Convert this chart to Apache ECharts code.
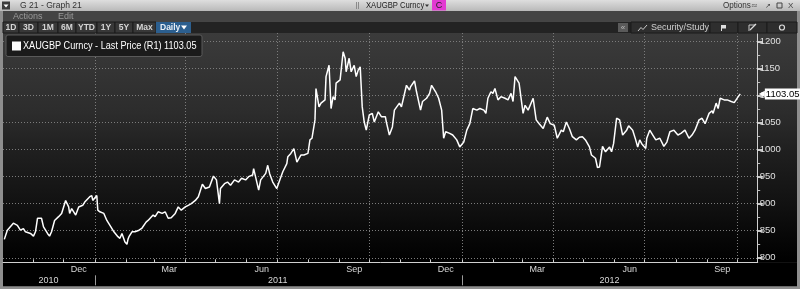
<!DOCTYPE html>
<html><head><meta charset="utf-8">
<script src="https://cdn.jsdelivr.net/npm/echarts@6/dist/echarts.min.js"></script>
<style>html,body{margin:0;padding:0;background:#8c8c8c;}#c{width:800px;height:289px;}</style>
</head><body><div id="c"></div>
<script>
// ---- data ----
const dates = ['2010-10-03','2010-10-06','2010-10-12','2010-10-16','2010-10-19','2010-10-22','2010-10-24','2010-10-29','2010-11-01','2010-11-03','2010-11-05','2010-11-09','2010-11-11','2010-11-15','2010-11-17','2010-11-19','2010-11-22','2010-11-26','2010-11-29','2010-12-01','2010-12-03','2010-12-06','2010-12-07','2010-12-09','2010-12-13','2010-12-16','2010-12-20','2010-12-22','2010-12-27','2010-12-29','2010-12-30','2011-01-03','2011-01-04','2011-01-06','2011-01-10','2011-01-13','2011-01-17','2011-01-20','2011-01-24','2011-01-26','2011-01-28','2011-01-31','2011-02-02','2011-02-03','2011-02-04','2011-02-07','2011-02-10','2011-02-14','2011-02-17','2011-02-21','2011-02-23','2011-02-28','2011-03-02','2011-03-05','2011-03-09','2011-03-12','2011-03-15','2011-03-18','2011-03-22','2011-03-25','2011-03-28','2011-04-01','2011-04-04','2011-04-07','2011-04-11','2011-04-14','2011-04-18','2011-04-21','2011-04-25','2011-04-29','2011-05-02','2011-05-05','2011-05-06','2011-05-10','2011-05-13','2011-05-16','2011-05-20','2011-05-24','2011-05-27','2011-05-31','2011-06-03','2011-06-07','2011-06-08','2011-06-13','2011-06-15','2011-06-20','2011-06-22','2011-06-24','2011-06-27','2011-07-01','2011-07-04','2011-07-07','2011-07-11','2011-07-12','2011-07-15','2011-07-18','2011-07-21','2011-07-25','2011-07-28','2011-08-01','2011-08-03','2011-08-05','2011-08-08','2011-08-09','2011-08-12','2011-08-14','2011-08-18','2011-08-19','2011-08-22','2011-08-24','2011-08-26','2011-08-28','2011-08-29','2011-09-02','2011-09-05','2011-09-07','2011-09-08','2011-09-11','2011-09-13','2011-09-16','2011-09-18','2011-09-20','2011-09-22','2011-09-24','2011-09-26','2011-09-28','2011-10-01','2011-10-04','2011-10-06','2011-10-10','2011-10-13','2011-10-17','2011-10-18','2011-10-21','2011-10-24','2011-10-26','2011-10-31','2011-11-02','2011-11-04','2011-11-07','2011-11-10','2011-11-11','2011-11-15','2011-11-17','2011-11-18','2011-11-21','2011-11-23','2011-11-27','2011-11-30','2011-12-02','2011-12-06','2011-12-09','2011-12-12','2011-12-14','2011-12-16','2011-12-20','2011-12-23','2011-12-27','2011-12-30','2012-01-03','2012-01-06','2012-01-09','2012-01-12','2012-01-16','2012-01-19','2012-01-23','2012-01-25','2012-01-27','2012-01-30','2012-02-01','2012-02-03','2012-02-06','2012-02-09','2012-02-13','2012-02-16','2012-02-19','2012-02-21','2012-02-23','2012-02-27','2012-02-28','2012-03-02','2012-03-04','2012-03-07','2012-03-12','2012-03-15','2012-03-18','2012-03-22','2012-03-26','2012-03-29','2012-04-02','2012-04-05','2012-04-09','2012-04-11','2012-04-14','2012-04-17','2012-04-20','2012-04-24','2012-04-27','2012-04-30','2012-05-03','2012-05-07','2012-05-09','2012-05-13','2012-05-15','2012-05-17','2012-05-20','2012-05-23','2012-05-27','2012-05-29','2012-05-31','2012-06-03','2012-06-06','2012-06-09','2012-06-13','2012-06-15','2012-06-19','2012-06-22','2012-06-24','2012-06-26','2012-06-28','2012-07-02','2012-07-03','2012-07-06','2012-07-09','2012-07-12','2012-07-16','2012-07-20','2012-07-23','2012-07-26','2012-07-30','2012-08-03','2012-08-06','2012-08-10','2012-08-14','2012-08-17','2012-08-20','2012-08-24','2012-08-27','2012-08-30','2012-09-03','2012-09-06','2012-09-07','2012-09-10','2012-09-12','2012-09-14','2012-09-18','2012-09-21','2012-09-25','2012-09-28','2012-10-02','2012-10-04'];
const prices = [834,851,864,860,851,854,848,845,840,848,873,873,857,845,840,848,869,876,882,894,906,894,882,891,879,894,897,903,913,915,906,915,888,885,882,869,857,848,839,836,845,829,825,834,839,848,848,851,855,866,869,879,876,885,882,885,873,874,882,894,888,894,897,900,906,913,936,928,931,951,944,900,928,937,940,934,944,940,947,944,950,953,965,925,944,956,971,955,940,928,944,959,974,987,993,1002,977,990,990,993,1018,1021,1055,1113,1079,1086,1092,1135,1156,1076,1098,1092,1123,1129,1181,1169,1144,1169,1144,1156,1135,1147,1153,1079,1051,1036,1064,1067,1051,1070,1061,1061,1051,1027,1042,1073,1086,1079,1095,1119,1110,1116,1127,1107,1104,1073,1089,1095,1104,1119,1107,1095,1073,1021,1033,1030,1027,1018,1005,1014,1036,1048,1076,1073,1076,1073,1067,1095,1107,1104,1113,1092,1098,1095,1092,1104,1089,1135,1123,1126,1067,1082,1073,1095,1055,1048,1039,1060,1048,1045,1021,1036,1033,1051,1039,1024,1018,1023,1024,1018,1005,990,984,967,968,1006,996,1005,996,1011,1058,1055,1027,1036,1044,1036,1018,1005,1018,1011,1002,1021,1036,1027,1018,1021,1006,1014,1033,1036,1027,1030,1036,1021,1027,1036,1055,1058,1048,1067,1072,1067,1086,1076,1095,1092,1092,1089,1087,1098,1103.05];
const lastPrice = 1103.05;
const seriesName = 'XAUGBP Curncy - Last Price (R1)';
const yTicks = [800,850,900,950,1000,1050,1100,1150,1200];
const yMinorTicks = [825,875,925,975,1025,1075,1125,1175];
const monthStarts = ['2010-11-01','2010-12-01','2011-01-01','2011-02-01','2011-03-01','2011-04-01','2011-05-01','2011-06-01','2011-07-01','2011-08-01','2011-09-01','2011-10-01','2011-11-01','2011-12-01','2012-01-01','2012-02-01','2012-03-01','2012-04-01','2012-05-01','2012-06-01','2012-07-01','2012-08-01','2012-09-01','2012-10-01'];
const quarterStarts = ['2011-01-01','2011-04-01','2011-07-01','2011-10-01','2012-01-01','2012-04-01','2012-07-01','2012-10-01'];
const monthLabelDates = ['2010-12-16','2011-03-16','2011-06-16','2011-09-16','2011-12-16','2012-03-16','2012-06-16','2012-09-16'];
const monthLabelNames = ['Dec','Mar','Jun','Sep','Dec','Mar','Jun','Sep'];
const yearLabelDates = ['2010-11-16','2011-07-02','2012-05-27'];
const yearLabelNames = ['2010','2011','2012'];
const yearBreaks = ['2011-01-01','2012-01-01'];
const xStart = '2010-10-02';   // left edge of plot
const xEnd = '2012-10-21';     // right edge of plot
const yMin = 791.6, yMax = 1215.7;

// ---- chart ----
const t = s => +new Date(s + 'T00:00:00');
const seriesData = dates.map((d, i) => [t(d), prices[i]]);
const xMin = t(xStart) - 0.3 * 864e5, xMax = t(xEnd) + 0.35 * 864e5;
const F = 'Liberation Sans';
const axisGrey = '#d0d0d0';
const gridGrey = '#7c7c7c';

const chart = echarts.init(document.getElementById('c'), null, {renderer: 'canvas'});

function baseX(extra) {
  return Object.assign({type: 'value', min: xMin, max: xMax, gridIndex: 0,
    axisLine: {show: false}, axisTick: {show: false}, axisLabel: {show: false},
    splitLine: {show: false}, axisPointer: {show: false}}, extra);
}

const btn = (x, w, label, fill) => ([
  {type: 'rect', shape: {x: x, y: 22, width: w, height: 11}, style: {fill: fill || '#383838', stroke: '#1a1a1a', lineWidth: 1}, z: 50},
  {type: 'text', x: x + w / 2, y: 27.8, style: {text: label, fill: '#d4d4d4', font: 'bold 8.5px ' + F, align: 'center', verticalAlign: 'middle'}, z: 51}
]);

const graphics = [
  {type: 'rect', shape: {x: 0, y: 0, width: 800, height: 289}, style: {fill: '#8e8e8e'}, z: -20},
  {type: 'rect', shape: {x: 0, y: 0, width: 800, height: 11}, style: {fill: new echarts.graphic.LinearGradient(0, 0, 0, 1, [{offset: 0, color: '#dedede'}, {offset: 1, color: '#b9b9b9'}])}, z: -19},
  {type: 'rect', shape: {x: 2, y: 1.5, width: 8, height: 8}, style: {fill: '#3a3a3a'}, z: 50},
  {type: 'polygon', shape: {points: [[3.5, 4.5], [8.5, 4.5], [6, 7.5]]}, style: {fill: '#fff'}, z: 51},
  {type: 'text', x: 20, y: 5.8, scaleX: 0.95, style: {text: 'G 21 - Graph 21', fill: '#333', font: '9px ' + F, verticalAlign: 'middle'}, z: 50},
  {type: 'rect', shape: {x: 356, y: 2, width: 1, height: 7}, style: {fill: '#8a8a8a'}, z: 50},
  {type: 'rect', shape: {x: 358, y: 2, width: 1, height: 7}, style: {fill: '#8a8a8a'}, z: 50},
  {type: 'text', x: 366, y: 5.8, scaleX: 0.85, style: {text: 'XAUGBP Curncy', fill: '#222', font: '9px ' + F, verticalAlign: 'middle'}, z: 50},
  {type: 'polygon', shape: {points: [[425, 4.5], [429, 4.5], [427, 7]]}, style: {fill: '#333'}, z: 51},
  {type: 'rect', shape: {x: 432, y: 0, width: 14, height: 10.5}, style: {fill: '#e23ad2'}, z: 50},
  {type: 'text', x: 439, y: 5.8, style: {text: 'C', fill: '#222', font: '9px ' + F, align: 'center', verticalAlign: 'middle'}, z: 51},
  {type: 'text', x: 723, y: 5.8, scaleX: 0.9, style: {text: 'Options', fill: '#333', font: '9px ' + F, verticalAlign: 'middle'}, z: 50},
  {type: 'text', x: 751, y: 5.8, style: {text: '≈', fill: '#555', font: '8px DejaVu Sans', verticalAlign: 'middle'}, z: 50},
  {type: 'text', x: 765, y: 5.8, style: {text: '↗', fill: '#444', font: '7px DejaVu Sans', verticalAlign: 'middle'}, z: 50},
  {type: 'rect', shape: {x: 777, y: 3, width: 5, height: 5}, style: {fill: 'none', stroke: '#444', lineWidth: 1}, z: 50},
  {type: 'text', x: 788, y: 5.8, style: {text: 'X', fill: '#444', font: '8px ' + F, verticalAlign: 'middle'}, z: 50},
  {type: 'rect', shape: {x: 3, y: 11, width: 794, height: 10.5}, style: {fill: '#444444'}, z: -19},
  {type: 'text', x: 13, y: 16.3, style: {text: 'Actions', fill: '#9a9a9a', font: '9px ' + F, verticalAlign: 'middle'}, z: 50},
  {type: 'text', x: 58, y: 16.3, style: {text: 'Edit', fill: '#9a9a9a', font: '9px ' + F, verticalAlign: 'middle'}, z: 50},
  {type: 'rect', shape: {x: 3, y: 21.5, width: 794, height: 11.5}, style: {fill: '#232323'}, z: -19},
  ...btn(3, 16, '1D'), ...btn(19, 19, '3D'), ...btn(38, 20, '1M'), ...btn(58, 18, '6M'),
  ...btn(76, 21, 'YTD'), ...btn(97, 18, '1Y'), ...btn(115, 18, '5Y'), ...btn(133, 23, 'Max'),
  {type: 'rect', shape: {x: 156, y: 22, width: 35, height: 11}, style: {fill: '#2c5f8f'}, z: 50},
  {type: 'text', x: 160, y: 27.8, style: {text: 'Daily', fill: '#e8eef5', font: 'bold 8.5px ' + F, verticalAlign: 'middle'}, z: 51},
  {type: 'polygon', shape: {points: [[181, 25.5], [187, 25.5], [184, 29.5]]}, style: {fill: '#fff'}, z: 51},
  {type: 'rect', shape: {x: 618, y: 23, width: 10, height: 9}, style: {fill: '#5a5a5a'}, z: 50},
  {type: 'text', x: 623, y: 27.6, style: {text: '«', fill: '#bbb', font: '8px ' + F, align: 'center', verticalAlign: 'middle'}, z: 51},
  {type: 'rect', shape: {x: 631, y: 22, width: 79, height: 11}, style: {fill: '#2e2e2e', stroke: '#1a1a1a'}, z: 50},
  {type: 'polyline', shape: {points: [[638, 31], [641, 27.5], [643, 29.5], [647, 25]]}, style: {stroke: '#ccc', lineWidth: 1, fill: 'none'}, z: 51},
  {type: 'text', x: 651, y: 27.8, style: {text: 'Security/Study', fill: '#cfcfcf', font: '9px ' + F, verticalAlign: 'middle'}, z: 51},
  {type: 'rect', shape: {x: 710, y: 22, width: 28, height: 11}, style: {fill: '#2e2e2e', stroke: '#1a1a1a'}, z: 50},
  {type: 'rect', shape: {x: 721, y: 25, width: 5, height: 3.5}, style: {fill: '#ddd'}, z: 51},
  {type: 'rect', shape: {x: 721, y: 25, width: 1, height: 6}, style: {fill: '#ddd'}, z: 51},
  {type: 'rect', shape: {x: 738, y: 22, width: 29, height: 11}, style: {fill: '#2e2e2e', stroke: '#1a1a1a'}, z: 50},
  {type: 'polyline', shape: {points: [[749, 31], [749, 25], [755, 25]]}, style: {stroke: '#ccc', lineWidth: 1, fill: 'none'}, z: 51},
  {type: 'line', shape: {x1: 750, y1: 30, x2: 756, y2: 24}, style: {stroke: '#ddd', lineWidth: 1.2}, z: 51},
  {type: 'rect', shape: {x: 767, y: 22, width: 30, height: 11}, style: {fill: '#2e2e2e', stroke: '#1a1a1a'}, z: 50},
  {type: 'circle', shape: {cx: 782, cy: 27.5, r: 2.5}, style: {fill: 'none', stroke: '#ddd', lineWidth: 1.2}, z: 51},
  {type: 'rect', shape: {x: 3, y: 33, width: 794, height: 229.5}, style: {fill: new echarts.graphic.LinearGradient(0, 0, 0, 1, [
    {offset: 0, color: '#3b3b3b'}, {offset: 0.35, color: '#2c2c2c'}, {offset: 0.52, color: '#1f1f1f'},
    {offset: 0.75, color: '#111111'}, {offset: 0.92, color: '#050505'}, {offset: 1, color: '#000000'}])}, z: -19},
  {type: 'rect', shape: {x: 3, y: 262.3, width: 794, height: 24}, style: {fill: '#000'}, z: -19},
  {type: 'rect', shape: {x: 6, y: 35, width: 196, height: 21.5, r: 2}, style: {fill: '#1b1b1b', stroke: '#5a5a5a', lineWidth: 1}, z: 60},
  {type: 'rect', shape: {x: 12, y: 41.5, width: 9, height: 9}, style: {fill: '#ffffff'}, z: 61},
  {type: 'text', x: 23, y: 46.3, scaleX: 0.87, style: {text: seriesName + ' ' + lastPrice.toFixed(2), fill: '#ffffff', font: '10.5px ' + F, verticalAlign: 'middle'}, z: 61}
];

const option = {
  animation: false,
  backgroundColor: 'transparent',
  graphic: {elements: graphics},
  grid: {left: 3, right: 42.3, top: 33, bottom: 26.7, outerBoundsMode: 'none', containLabel: false, show: false},
  xAxis: [
    baseX({axisTick: {show: false, customValues: quarterStarts.map(t)}, axisLabel: {show: false, customValues: quarterStarts.map(t)},
      splitLine: {show: true, lineStyle: {color: gridGrey, type: [1, 2], width: 1}}}),
    baseX({position: 'bottom', axisLine: {show: true, onZero: false, lineStyle: {color: axisGrey, width: 1}},
      axisTick: {show: true, customValues: monthStarts.map(t), length: 3, inside: true, lineStyle: {color: axisGrey}},
      axisLabel: {show: true, customValues: monthLabelDates.map(t), color: '#d8d8d8', fontFamily: F, fontSize: 9, margin: 3,
        formatter: (v) => monthLabelNames[monthLabelDates.map(t).indexOf(v)]}}),
    baseX({position: 'bottom', offset: 13,
      axisTick: {show: true, customValues: yearBreaks.map(t), length: 10, lineStyle: {color: '#9a9a9a'}},
      axisLabel: {show: true, customValues: yearLabelDates.map(t), color: '#d8d8d8', fontFamily: F, fontSize: 9, margin: 1,
        formatter: (v) => yearLabelNames[yearLabelDates.map(t).indexOf(v)]}})
  ],
  yAxis: [
    {type: 'value', position: 'right', min: yMin, max: yMax,
      axisLine: {show: true, lineStyle: {color: axisGrey, width: 1}},
      axisTick: {show: true, customValues: yTicks, length: 5, lineStyle: {color: '#ffffff', width: 1.5}},
      axisLabel: {show: true, customValues: yTicks, color: '#e0e0e0', fontFamily: F, fontSize: 9.5, margin: 2,
        formatter: (v) => String(v)},
      splitLine: {show: true, lineStyle: {color: gridGrey, type: [1, 2], width: 1}}},
    {type: 'value', position: 'right', min: yMin, max: yMax,
      axisLine: {show: false},
      axisTick: {show: true, customValues: yMinorTicks, length: 2.5, lineStyle: {color: '#bbbbbb'}},
      axisLabel: {show: false, customValues: yMinorTicks}, splitLine: {show: false}}
  ],
  series: [{
    name: seriesName, type: 'line', xAxisIndex: 0, yAxisIndex: 0,
    data: seriesData, showSymbol: false, symbol: 'none',
    lineStyle: {color: '#ffffff', width: 1.5}, z: 5,
    markLine: {
      silent: true, symbol: ['none', 'none'], animation: false,
      lineStyle: {width: 0, color: 'rgba(0,0,0,0)'},
      data: [{yAxis: lastPrice}],
      label: {show: true, position: 'end', distance: 1, color: '#000',
        formatter: () => '{a|◀}{b|' + lastPrice.toFixed(2) + '}',
        rich: {a: {color: '#ffffff', fontSize: 8, fontFamily: 'DejaVu Sans'},
               b: {color: '#000', backgroundColor: '#ffffff', fontSize: 9.5, fontFamily: F, padding: [1, 1, 0, 1]}}}
    }
  }]
};
chart.setOption(option);
</script>
</body></html>
